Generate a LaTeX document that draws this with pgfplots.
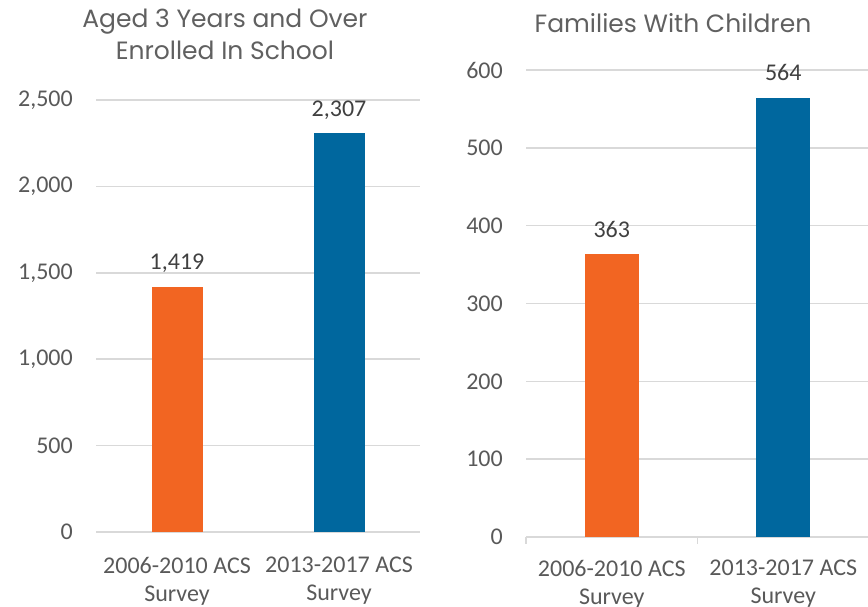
\documentclass[border=0pt]{standalone}
\usepackage{pgfplots}
\pgfplotsset{compat=1.18}
\usepackage{fontspec}
\setmainfont{Carlito}
\newfontfamily\titlefont{Poppins}
\definecolor{cOrange}{RGB}{242,101,34}
\definecolor{cBlue}{RGB}{0,103,158}
\definecolor{cText}{RGB}{89,89,89}
\definecolor{cTitle}{RGB}{96,96,96}
\definecolor{cLabel}{RGB}{64,64,64}
\definecolor{cGrid}{RGB}{217,217,217}
\pgfplotsset{
  mystyle/.style={
    scale only axis,
    anchor=south west,
    xmin=-0.5, xmax=1.5, ymin=0,
    xtick={0,1},
    xticklabels={{2006-2010 ACS\\Survey},{2013-2017 ACS\\Survey}},
    x tick label style={align=center, font=\fontsize{24}{28}\selectfont, text=cText, inner sep=0pt, anchor=north},
    y tick label style={font=\fontsize{24}{28}\selectfont, text=cText, inner sep=0pt, anchor=east, xshift=-23pt},
    major tick length=0pt,
    tick pos=left,
    ymajorgrids,
    grid style={cGrid, line width=1.5pt},
    axis line style={draw=none},
    tick style={cGrid, line width=1.5pt},
    /pgf/number format/.cd, 1000 sep={,}, assume math mode=true,
    /pgfplots/.cd,
    title style={font=\titlefont\fontsize{25}{32}\selectfont, text=cTitle, align=center, inner sep=0pt, anchor=south},
    nodes near coords,
    every node near coord/.append style={font=\fontsize{24}{28}\selectfont, text=cLabel, anchor=south, inner sep=0pt, text depth=0pt, yshift=17pt},
  }
}
\begin{document}
\begin{tikzpicture}
\useasboundingbox (0,0) rectangle (868pt,607pt);
% Left chart
\begin{axis}[mystyle,
  at={(96pt,75pt)}, width=324pt, height=432pt,
  ymax=2500, ytick={0,500,1000,1500,2000,2500},
  x tick label style={yshift=-25pt},
  title={Aged 3 Years and Over\\Enrolled In School},
  title style={at={(0.398,1)}, yshift=34pt},
  bar width=51pt]
\addplot[ybar, fill=cOrange, draw=none] coordinates {(0,1419)};
\addplot[ybar, fill=cBlue, draw=none] coordinates {(1,2307)};
\end{axis}
% Right chart
\begin{axis}[mystyle,
  at={(526pt,70pt)}, width=343pt, height=467pt,
  ymax=600, ytick={0,100,200,300,400,500,600},
  x tick label style={yshift=-23pt},
  extra x ticks={-0.5,0.5,1.5},
  extra x tick labels={},
  extra x tick style={major tick length=7pt, tick align=outside, grid=none},
  title={Families With Children},
  title style={at={(0.4286,1)}, yshift=31pt},
  bar width=54pt]
\addplot[ybar, fill=cOrange, draw=none] coordinates {(0,363)};
\addplot[ybar, fill=cBlue, draw=none] coordinates {(1,564)};
\end{axis}
\end{tikzpicture}
\end{document}
